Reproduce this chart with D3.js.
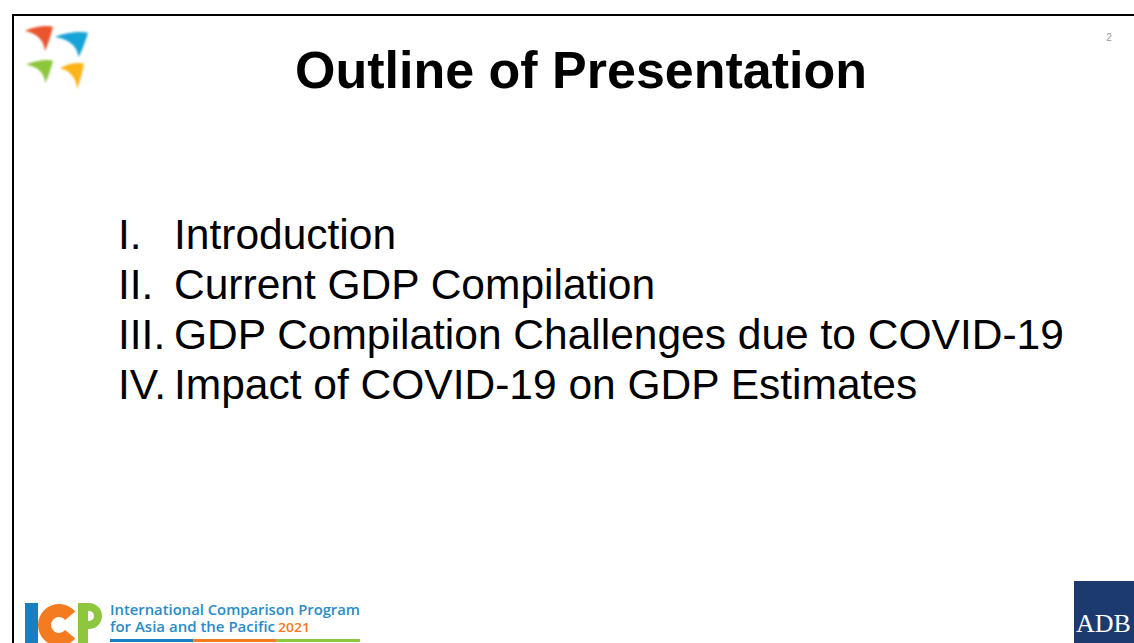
<!DOCTYPE html>
<html>
<head>
<meta charset="utf-8">
<script src="https://cdn.jsdelivr.net/npm/d3@7"></script>
<style>
  html, body { margin: 0; padding: 0; background: #fff; overflow: hidden; }
  svg { display: block; }
</style>
</head>
<body>
<div id="slide"></div>
<script>
// slide content
const title = 'Outline of Presentation';
const numerals = ['I.', 'II.', 'III.', 'IV.'];
const items = [
  'Introduction',
  'Current GDP Compilation',
  'GDP Compilation Challenges due to COVID-19',
  'Impact of COVID-19 on GDP Estimates'
];
const pageNumber = '2';
const logoColors = ['#e9552d', '#12a3d6', '#8cc63e', '#fbb316'];
const icpColors = ['#1a7fc1', '#f47b20', '#8dc63f'];
const icpLines = ['International Comparison Program', 'for Asia and the Pacific'];
const icpYear = '2021';

const width = 1134, height = 643;

const svg = d3.select('#slide').append('svg')
  .attr('width', width)
  .attr('height', height);

// slide frame (right and bottom edges fall outside the picture)
svg.append('path')
  .attr('d', `M13,${height} V15 H${width}`)
  .attr('fill', 'none')
  .attr('stroke', '#000')
  .attr('stroke-width', 2);

// top-left bird logo
const defs = svg.append('defs');
defs.append('filter').attr('id', 'soft')
  .append('feGaussianBlur').attr('stdDeviation', 0.8);

const birds = [
  { x: 25, y: 26, w: 28, h: 25 },
  { x: 55, y: 32, w: 33, h: 25 },
  { x: 26, y: 60, w: 27, h: 23 },
  { x: 60, y: 63, w: 24, h: 26 }
];
const swoosh = 'M0,0.2 C0.3,0.04 0.75,-0.04 1,0.03 C0.92,0.4 0.82,0.72 0.72,1 C0.66,0.6 0.5,0.32 0,0.2 Z';
svg.append('g').attr('filter', 'url(#soft)')
  .selectAll('path')
  .data(birds)
  .join('path')
  .attr('d', swoosh)
  .attr('transform', d => `translate(${d.x},${d.y}) scale(${d.w},${d.h})`)
  .attr('fill', (d, i) => logoColors[i]);

// title
svg.append('text')
  .attr('x', 581)
  .attr('y', 88)
  .attr('text-anchor', 'middle')
  .attr('font-family', 'Liberation Sans, Arial, sans-serif')
  .attr('font-weight', 'bold')
  .attr('font-size', 52)
  .attr('fill', '#000')
  .text(title);

svg.append('text')
  .attr('x', 1109)
  .attr('y', 41)
  .attr('text-anchor', 'middle')
  .attr('font-family', 'Liberation Sans, Arial, sans-serif')
  .attr('font-size', 10)
  .attr('fill', '#999')
  .text(pageNumber);

// outline list
const y = d3.scalePoint()
  .domain(items)
  .range([249, 399]);

const rows = svg.append('g')
  .attr('font-family', 'Liberation Sans, Arial, sans-serif')
  .attr('font-size', 42.5)
  .attr('fill', '#000')
  .selectAll('g')
  .data(items)
  .join('g')
  .attr('transform', d => `translate(0,${y(d)})`);

rows.append('text')
  .attr('x', 118)
  .text((d, i) => numerals[i]);

rows.append('text')
  .attr('x', 174)
  .text(d => d);

// ICP logo, bottom left: block letters I, C, P
const icp = svg.append('g');
icp.append('rect')
  .attr('x', 25).attr('y', 603)
  .attr('width', 13).attr('height', 45)
  .attr('fill', icpColors[0]);

icp.append('path')
  .attr('d', d3.arc()
    .innerRadius(8)
    .outerRadius(21)
    .startAngle(0.72 * Math.PI)
    .endAngle(2.28 * Math.PI)())
  .attr('transform', 'translate(59,625)')
  .attr('fill', icpColors[1]);

icp.append('path')
  .attr('d', 'M78,603 H89 A13,13 0 0 1 89,629 H88 V648 H78 Z M88,611 V621 H89 A5,5 0 0 0 89,611 Z')
  .attr('fill-rule', 'evenodd')
  .attr('fill', icpColors[2]);

const icpText = icp.append('g')
  .attr('font-family', 'Open Sans, Noto Sans, sans-serif')
  .attr('font-weight', 600)
  .attr('lengthAdjust', 'spacingAndGlyphs');

icpText.append('text')
  .attr('x', 110).attr('y', 615)
  .attr('font-size', 13.5)
  .attr('textLength', 250)
  .attr('lengthAdjust', 'spacingAndGlyphs')
  .attr('fill', '#2a8bc8')
  .text(icpLines[0]);

icpText.append('text')
  .attr('x', 110).attr('y', 632)
  .attr('font-size', 13.5)
  .attr('textLength', 165)
  .attr('lengthAdjust', 'spacingAndGlyphs')
  .attr('fill', '#2a8bc8')
  .text(icpLines[1]);

icpText.append('text')
  .attr('x', 278).attr('y', 632)
  .attr('font-size', 12)
  .attr('textLength', 32)
  .attr('lengthAdjust', 'spacingAndGlyphs')
  .attr('fill', icpColors[1])
  .text(icpYear);

const bar = d3.scaleBand().domain(icpColors).range([110, 360]);
icp.selectAll('rect.rule')
  .data(icpColors)
  .join('rect')
  .attr('class', 'rule')
  .attr('x', d => bar(d))
  .attr('y', 639)
  .attr('width', bar.bandwidth())
  .attr('height', 3)
  .attr('fill', d => d);

// ADB logo, bottom right
svg.append('rect')
  .attr('x', 1074).attr('y', 581)
  .attr('width', width - 1074).attr('height', height - 581)
  .attr('fill', '#1d3a6e');

svg.append('text')
  .attr('x', 1076).attr('y', 632)
  .attr('font-family', 'Liberation Serif, Times New Roman, serif')
  .attr('font-size', 26)
  .attr('fill', '#fff')
  .text('ADB');
</script>
</body>
</html>
